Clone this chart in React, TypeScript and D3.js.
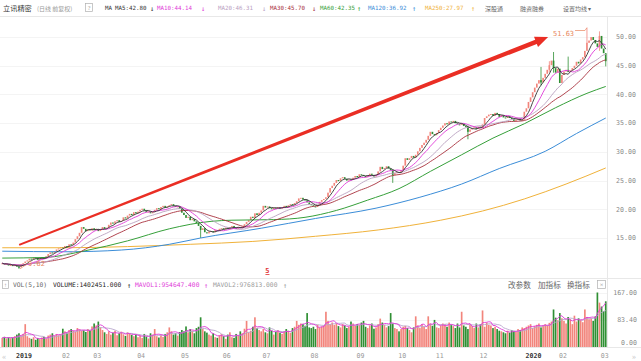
import React, { useEffect, useRef } from 'react';
import * as d3 from 'd3';

// 立讯精密 日线（前复权），收盘价按月
const closeDec2018 = [10.6, 10.4, 10.5, 10.2, 10.3, 10.1, 10.3];
const closeJan2019 = [10.0, 9.9, 10.4, 10.6, 10.9, 11.1, 11.4, 11.3, 11.6, 11.5, 11.2, 11.4, 11.6, 11.5, 11.8, 12.2, 12.5, 12.3, 12.7, 13.0, 13.2, 13.4];
const closeFeb2019 = [13.3, 13.6, 13.5, 13.9, 13.8, 14.2, 14.8, 15.3, 15.9, 16.9, 16.6, 16.2, 16.5, 16.3, 16.7];
const closeMar2019 = [16.4, 16.6, 16.2, 16.5, 16.9, 16.6, 16.8, 17.3, 17.7, 17.5, 17.9, 18.1, 17.8, 18.0, 18.6, 18.4, 18.9, 19.2, 19.0, 19.5, 19.3];
const closeApr2019 = [19.6, 19.9, 20.1, 19.8, 19.5, 19.6, 19.3, 19.5, 19.9, 20.2, 20.0, 20.4, 20.6, 20.3, 20.5, 20.7, 20.9, 20.6, 20.4, 20.5, 20.1];
const closeMay2019 = [19.4, 19.0, 18.5, 18.7, 18.1, 18.3, 17.9, 17.6, 17.1, 16.4, 16.7, 16.0, 15.8, 16.1, 16.2, 16.0, 16.4, 16.3, 16.6, 16.7];
const closeJun2019 = [16.5, 16.8, 16.6, 16.9, 17.1, 16.8, 16.6, 16.9, 16.7, 17.0, 17.4, 17.8, 18.1, 18.7, 18.5, 19.3, 19.0, 19.4, 19.8];
const closeJul2019 = [20.6, 20.3, 20.5, 20.2, 20.0, 20.3, 20.2, 20.4, 20.1, 20.3, 20.6, 20.4, 20.7, 20.9, 20.8, 21.1, 21.4, 21.9, 22.0, 21.7, 21.6, 21.2, 20.9];
const closeAug2019 = [20.7, 20.5, 20.4, 20.8, 21.3, 21.6, 21.8, 22.1, 22.9, 23.7, 24.1, 24.6, 25.1, 24.9, 25.4, 25.6, 25.3, 25.0, 25.2, 25.1, 25.5, 25.8];
const closeSep2019 = [25.6, 26.1, 26.0, 25.8, 25.6, 25.9, 26.2, 26.0, 25.7, 26.0, 26.6, 27.4, 27.0, 27.2, 27.5, 27.1, 26.8, 26.0, 26.3, 26.5];
const closeOct2019 = [26.4, 26.8, 27.6, 28.9, 28.6, 28.9, 29.3, 29.0, 29.5, 30.1, 30.7, 31.2, 31.6, 32.1, 32.8, 33.5, 33.1, 32.9];
const closeNov2019 = [33.3, 33.8, 34.2, 34.6, 35.0, 34.8, 35.3, 35.2, 35.4, 35.0, 34.8, 34.7, 34.9, 34.5, 34.3, 33.5, 33.9, 34.1, 34.3, 34.0, 34.4];
const closeDec2019 = [34.2, 34.8, 35.9, 36.2, 36.5, 36.6, 36.3, 36.8, 36.6, 36.1, 36.4, 36.0, 35.9, 36.2, 35.9, 35.7, 35.4, 35.6, 35.8, 35.5, 35.6, 37.0];
const closeJan2020 = [37.6, 38.7, 39.5, 40.4, 41.2, 41.9, 42.5, 42.1, 42.9, 43.6, 44.3, 45.1, 45.9, 44.6, 43.8, 44.5];
const closeFeb2020 = [42.0, 43.4, 44.0, 44.3, 43.9, 44.2, 44.6, 45.0, 45.7, 45.4, 46.1, 46.5, 47.6, 49.0, 49.4, 50.0, 49.5, 48.9, 48.3, 50.2];
const closeMar2020 = [48.0, 47.2, 45.8];

// 成交量（万手）
const volDec2018 = [28, 31, 26, 30, 27, 29, 33];
const volJan2019 = [38, 42, 35, 40, 70, 33, 28, 25, 30, 22, 27, 24, 29, 31, 26, 35, 38, 42, 34, 40, 36, 39];
const volFeb2019 = [56, 48, 44, 52, 55, 50, 47, 58, 54, 49, 52, 46, 55, 50, 63];
const volMar2019 = [72, 66, 78, 60, 52, 45, 40, 48, 38, 44, 50, 36, 42, 47, 39, 34, 45, 41, 37, 33, 38];
const volApr2019 = [30, 35, 28, 40, 32, 26, 42, 38, 55, 33, 29, 36, 31, 40, 45, 60, 48, 38, 42, 35, 46];
const volMay2019 = [52, 48, 63, 45, 55, 50, 42, 58, 62, 91, 55, 48, 44, 38, 35, 42, 30, 28, 36, 40];
const volJun2019 = [33, 25, 38, 45, 30, 28, 40, 35, 48, 42, 56, 80, 45, 50, 62, 91, 58, 52, 48];
const volJul2019 = [55, 45, 42, 60, 50, 38, 46, 52, 44, 40, 48, 55, 50, 43, 58, 62, 80, 68, 72, 70, 65, 104, 60];
const volAug2019 = [58, 62, 55, 68, 60, 63, 66, 108, 80, 70, 75, 68, 72, 64, 60, 70, 66, 58, 62, 78, 72, 65];
const volSep2019 = [70, 68, 75, 80, 62, 58, 66, 72, 56, 60, 70, 87, 75, 68, 60, 64, 104, 72, 58, 55];
const volOct2019 = [48, 55, 62, 65, 58, 52, 45, 60, 94, 66, 58, 70, 62, 55, 94, 72, 65, 83];
const volNov2019 = [60, 58, 66, 72, 70, 62, 75, 68, 64, 58, 72, 60, 108, 66, 62, 55, 70, 64, 58, 72, 60];
const volDec2019 = [70, 112, 62, 75, 68, 66, 58, 62, 55, 50, 48, 45, 42, 50, 44, 52, 48, 46, 55, 52, 60, 58];
const volJan2020 = [62, 66, 70, 58, 64, 68, 72, 60, 65, 70, 66, 74, 78, 115, 90, 82];
const volFeb2020 = [104, 88, 80, 72, 92, 85, 70, 96, 78, 88, 82, 76, 115, 92, 85, 88, 80, 94, 167, 136];
const volMar2020 = [124, 110, 140];

// 明显的上下影线 [序号, 最高, 最低]
const shadowIdx = [8, 95, 187, 223, 258, 262, 264, 271, 280, 286, 289];
const shadowHigh = [10.4, 17.1, 26.9, 34.6, 44.8, 45.8, 47.4, 46.6, 51.63, 51.0, 46.4];
const shadowLow = [9.62, 15.0, 24.6, 32.2, 41.6, 43.9, 43.8, 44.0, 48.9, 47.6, 44.9];

// 长周期均线（从图上读取的点）
const ma60Idx = [0, 20, 40, 60, 80, 100, 110, 130, 145, 160, 175, 190, 205, 220, 235, 250, 265, 280, 289];
const ma60Val = [11.5, 11.6, 12.8, 14.5, 16.6, 17.9, 18.1, 18.2, 18.6, 19.8, 21.6, 23.6, 26.6, 29.5, 32.4, 34.9, 37.7, 40.2, 41.4];
const ma120Idx = [0, 30, 57, 80, 95, 124, 150, 179, 200, 220, 238, 260, 275, 289];
const ma120Val = [12.7, 12.6, 12.9, 13.9, 15.0, 16.7, 18.4, 20.2, 22.1, 24.4, 27.1, 30.1, 33.2, 35.9];
const ma250Idx = [0, 30, 60, 90, 120, 150, 180, 210, 230, 250, 270, 289];
const ma250Val = [13.3, 13.3, 13.5, 13.9, 14.4, 15.3, 16.4, 18.1, 19.7, 21.8, 24.4, 27.2];

// 月份刻度
const preDays = 7;
const monthLabels = ['2019', '02', '03', '04', '05', '06', '07', '08', '09', '10', '11', '12', '2020', '02', '03'];
const monthDays = [22, 15, 21, 21, 20, 19, 23, 22, 20, 18, 21, 22, 16, 20, 3];

const priceTicks = [15, 20, 25, 30, 35, 40, 45, 50];
const volTicks = [0, 83.4, 167];

// 顶部均线说明
const maHeader = [
  { name: 'MA5', value: '42.80', dir: '↓', color: '#333333', x: 115, ax: 150 },
  { name: 'MA10', value: '44.14', dir: '↓', color: '#e03ad8', x: 157, ax: 201 },
  { name: 'MA20', value: '46.31', dir: '↓', color: '#b9a0bf', x: 218, ax: 262 },
  { name: 'MA30', value: '45.70', dir: '↓', color: '#a8303c', x: 270, ax: 312 },
  { name: 'MA60', value: '42.35', dir: '↑', color: '#36a03a', x: 320, ax: 357 },
  { name: 'MA120', value: '36.92', dir: '↑', color: '#3b8dd8', x: 368, ax: 412 },
  { name: 'MA250', value: '27.97', dir: '↑', color: '#f0b23a', x: 425, ax: 471 },
];

const UP = '#f2857c';
const DOWN = '#2f8f33';
const MONO = '"DejaVu Sans Mono", monospace';
const CJK = '"Noto Sans CJK SC", sans-serif';

const movingAvg = (arr: number[], n: number) =>
  arr.map((_, i) => {
    const s = arr.slice(Math.max(0, i - n + 1), i + 1);
    return d3.mean(s) as number;
  });

export default function App() {
  const svgRef = useRef<SVGSVGElement>(null);

  useEffect(() => {
    if (!svgRef.current) return;
    const svg = d3.select(svgRef.current);
    svg.selectAll('*').remove();

    const closes = [
      ...closeDec2018, ...closeJan2019, ...closeFeb2019, ...closeMar2019, ...closeApr2019,
      ...closeMay2019, ...closeJun2019, ...closeJul2019, ...closeAug2019, ...closeSep2019,
      ...closeOct2019, ...closeNov2019, ...closeDec2019, ...closeJan2020, ...closeFeb2020, ...closeMar2020,
    ];
    const volumes = [
      ...volDec2018, ...volJan2019, ...volFeb2019, ...volMar2019, ...volApr2019,
      ...volMay2019, ...volJun2019, ...volJul2019, ...volAug2019, ...volSep2019,
      ...volOct2019, ...volNov2019, ...volDec2019, ...volJan2020, ...volFeb2020, ...volMar2020,
    ];
    const n = closes.length;
    const opens = closes.map((c, i) => (i === 0 ? c : closes[i - 1]));

    // Scales
    const x = d3.scaleBand<number>().domain(d3.range(n)).range([1, 607]).padding(0.2);
    const bw = x.bandwidth();
    const cx = (i: number) => (x(0) as number) + x.step() * i + bw / 2;
    const y = d3.scaleLinear().domain([8.03, 53.5]).range([278, 17]);
    const yv = d3.scaleLinear().domain([0, 167]).range([347, 292.5]);

    // Frame + grid
    const frame = svg.append('g').attr('stroke', '#e8e8e8').attr('stroke-width', 1);
    frame.append('line').attr('x1', 0).attr('x2', 641).attr('y1', 16.5).attr('y2', 16.5);
    frame.append('line').attr('x1', 0).attr('x2', 641).attr('y1', 278.5).attr('y2', 278.5);
    frame.append('line').attr('x1', 0).attr('x2', 641).attr('y1', 347.5).attr('y2', 347.5);
    frame.append('line').attr('x1', 607.5).attr('x2', 607.5).attr('y1', 16.5).attr('y2', 347.5);

    svg.append('g')
      .selectAll('line')
      .data(priceTicks)
      .enter()
      .append('line')
      .attr('x1', 0)
      .attr('x2', 607)
      .attr('y1', (d) => Math.round(y(d)) + 0.5)
      .attr('y2', (d) => Math.round(y(d)) + 0.5)
      .attr('stroke', '#f4f4f4');

    svg.append('g')
      .selectAll('line')
      .data(volTicks.slice(1))
      .enter()
      .append('line')
      .attr('x1', 0)
      .attr('x2', 607)
      .attr('y1', (d) => Math.round(yv(d)) + 0.5)
      .attr('y2', (d) => Math.round(yv(d)) + 0.5)
      .attr('stroke', '#f4f4f4');

    // Price axis labels
    svg.append('g')
      .selectAll('text')
      .data(priceTicks)
      .enter()
      .append('text')
      .attr('x', 616)
      .attr('y', (d) => y(d) + 2.3)
      .attr('fill', '#8a8a8a')
      .attr('font-family', MONO)
      .attr('font-size', '6.6px')
      .text((d) => d.toFixed(2));

    // Volume axis labels
    svg.append('g')
      .selectAll('text')
      .data(volTicks)
      .enter()
      .append('text')
      .attr('x', 637)
      .attr('y', (d) => (d === 0 ? yv(d) - 2 : yv(d) + 2.3))
      .attr('text-anchor', 'end')
      .attr('fill', '#8a8a8a')
      .attr('font-family', MONO)
      .attr('font-size', '6.6px')
      .text((d) => d.toFixed(2));

    // Month ticks
    let acc = preDays;
    const ticks = monthLabels.map((label, k) => {
      const idx = acc;
      acc += monthDays[k];
      return { label, idx };
    });
    svg.append('g')
      .selectAll('text')
      .data(ticks)
      .enter()
      .append('text')
      .attr('x', (d) => x(d.idx) as number)
      .attr('y', 358)
      .attr('fill', (d) => (d.label.length === 4 ? '#333' : '#999'))
      .attr('font-weight', (d) => (d.label.length === 4 ? 'bold' : 'normal'))
      .attr('font-family', MONO)
      .attr('font-size', '6.6px')
      .text((d) => d.label);

    svg.append('text').attr('x', 2).attr('y', 358.5).attr('fill', '#c8c8c8').attr('font-size', '8px').text('«');
    svg.append('text').attr('x', 632).attr('y', 358.5).attr('fill', '#c8c8c8').attr('font-size', '8px').text('»');

    // Candles
    const candles = svg.append('g');
    shadowIdx.forEach((i, k) => {
      candles
        .append('line')
        .attr('x1', cx(i))
        .attr('x2', cx(i))
        .attr('y1', y(shadowHigh[k]))
        .attr('y2', y(shadowLow[k]))
        .attr('stroke', closes[i] >= opens[i] ? UP : DOWN)
        .attr('stroke-width', 0.8);
    });
    candles
      .selectAll('rect')
      .data(d3.range(n))
      .enter()
      .append('rect')
      .attr('x', (i) => x(i) as number)
      .attr('width', bw)
      .attr('y', (i) => y(Math.max(opens[i], closes[i])))
      .attr('height', (i) => Math.max(1, Math.abs(y(opens[i]) - y(closes[i]))))
      .attr('fill', (i) => (closes[i] >= opens[i] ? UP : DOWN));

    // Moving averages
    const line = d3
      .line<number>()
      .x((_, i) => cx(i))
      .y((d) => y(d));
    const sparse = (idx: number[], vals: number[]) =>
      d3
        .line<number>()
        .x((_, k) => cx(idx[k]))
        .y((d) => y(d))
        .curve(d3.curveMonotoneX)(vals);

    svg.append('path').attr('d', sparse(ma250Idx, ma250Val)).attr('fill', 'none').attr('stroke', maHeader[6].color).attr('stroke-width', 1);
    svg.append('path').attr('d', sparse(ma120Idx, ma120Val)).attr('fill', 'none').attr('stroke', maHeader[5].color).attr('stroke-width', 1);
    svg.append('path').attr('d', sparse(ma60Idx, ma60Val)).attr('fill', 'none').attr('stroke', maHeader[4].color).attr('stroke-width', 1);
    [
      { p: 30, c: maHeader[3].color },
      { p: 20, c: maHeader[2].color },
      { p: 10, c: maHeader[1].color },
      { p: 5, c: maHeader[0].color },
    ].forEach(({ p, c }) => {
      svg.append('path').attr('d', line(movingAvg(closes, p))).attr('fill', 'none').attr('stroke', c).attr('stroke-width', 0.9);
    });

    // Red trend arrow
    const a0 = [cx(8.1), y(13.8)];
    const a1 = [cx(261.4), y(50.0)];
    const dx = a1[0] - a0[0];
    const dy = a1[1] - a0[1];
    const len = Math.hypot(dx, dy);
    const ux = dx / len;
    const uy = dy / len;
    const nx = -uy;
    const ny = ux;
    const headLen = 13;
    const b = [a1[0] - ux * headLen, a1[1] - uy * headLen];
    const pts = [
      [a0[0] + nx * 1.0, a0[1] + ny * 1.0],
      [b[0] + nx * 2.2, b[1] + ny * 2.2],
      [b[0] + nx * 5.5, b[1] + ny * 5.5],
      a1,
      [b[0] - nx * 5.5, b[1] - ny * 5.5],
      [b[0] - nx * 2.2, b[1] - ny * 2.2],
      [a0[0] - nx * 1.0, a0[1] - ny * 1.0],
    ];
    svg.append('polygon').attr('points', pts.map((p) => p.join(',')).join(' ')).attr('fill', '#ea2e24');

    // High / low labels
    svg.append('text').attr('x', 553).attr('y', 36).attr('fill', '#e8875e').attr('font-family', MONO).attr('font-size', '7px').text('51.63');
    svg.append('path')
      .attr('d', `M${575},${30.5} L${cx(280) - 2},${30.5} L${cx(280)},${y(51.63)}`)
      .attr('fill', 'none')
      .attr('stroke', '#e8875e')
      .attr('stroke-width', 0.7);
    svg.append('text').attr('x', 28).attr('y', 266).attr('fill', '#e8875e').attr('font-family', MONO).attr('font-size', '7px').text('9.62');
    svg.append('line').attr('x1', cx(8) + 1).attr('x2', 27).attr('y1', y(9.62)).attr('y2', 264).attr('stroke', '#e8875e').attr('stroke-width', 0.7);

    // Event marker
    svg.append('text').attr('x', cx(127)).attr('y', 273).attr('text-anchor', 'middle').attr('fill', '#e03030').attr('font-size', '7px').attr('font-weight', 'bold').attr('font-family', MONO).text('5');
    svg.append('line').attr('x1', cx(127) - 2).attr('x2', cx(127) + 2).attr('y1', 274.5).attr('y2', 274.5).attr('stroke', '#e03030').attr('stroke-width', 0.8);

    // Volume bars
    svg.append('g')
      .selectAll('rect')
      .data(d3.range(n))
      .enter()
      .append('rect')
      .attr('x', (i) => x(i) as number)
      .attr('width', bw)
      .attr('y', (i) => yv(volumes[i]))
      .attr('height', (i) => yv(0) - yv(volumes[i]))
      .attr('fill', (i) => (closes[i] >= opens[i] ? UP : DOWN));

    const vline = d3
      .line<number>()
      .x((_, i) => cx(i))
      .y((d) => yv(d));
    svg.append('path').attr('d', vline(movingAvg(volumes, 10))).attr('fill', 'none').attr('stroke', '#b8a6cc').attr('stroke-width', 0.9);
    svg.append('path').attr('d', vline(movingAvg(volumes, 5))).attr('fill', 'none').attr('stroke', '#e03ad8').attr('stroke-width', 0.9);

    // Header
    const head = svg.append('g');
    head.append('text').attr('x', 3).attr('y', 10.5).attr('fill', '#333').attr('font-family', CJK).attr('font-size', '7.2px').text('立讯精密');
    head.append('text').attr('x', 37).attr('y', 10.5).attr('fill', '#999').attr('font-family', CJK).attr('font-size', '6px').text('(日线 前复权)');
    head.append('rect').attr('x', 85.5).attr('y', 3.5).attr('width', 7).attr('height', 8).attr('fill', 'none').attr('stroke', '#b0b0b0').attr('stroke-width', 0.7);
    head.append('text').attr('x', 89).attr('y', 10).attr('text-anchor', 'middle').attr('fill', '#999').attr('font-size', '6px').text('?');
    head.append('text').attr('x', 105).attr('y', 10.3).attr('fill', '#333').attr('font-family', MONO).attr('font-size', '5.8px').text('MA');
    maHeader.forEach((m) => {
      head.append('text').attr('x', m.x).attr('y', 10.3).attr('fill', m.color).attr('font-family', MONO).attr('font-size', '5.8px').text(`${m.name}:${m.value}`);
      head.append('text').attr('x', m.ax).attr('y', 10.8).attr('fill', m.color).attr('font-family', MONO).attr('font-size', '7px').text(m.dir);
    });
    [
      { t: '深股通', x: 485 },
      { t: '融资融券', x: 520 },
      { t: '设置均线 ▾', x: 563 },
    ].forEach((d) => {
      head.append('text').attr('x', d.x).attr('y', 10.5).attr('fill', '#666').attr('font-family', CJK).attr('font-size', '6px').text(d.t);
    });

    // Volume header
    const vh = svg.append('g');
    vh.append('rect').attr('x', 2.5).attr('y', 280.5).attr('width', 6).attr('height', 8).attr('fill', 'none').attr('stroke', '#b0b0b0').attr('stroke-width', 0.7);
    vh.append('text').attr('x', 5.5).attr('y', 287).attr('text-anchor', 'middle').attr('fill', '#999').attr('font-size', '6px').text('↑');
    vh.append('text').attr('x', 13).attr('y', 287).attr('fill', '#666').attr('font-family', MONO).attr('font-size', '6.3px').text('VOL(5,10)');
    vh.append('text').attr('x', 53).attr('y', 287).attr('fill', '#222').attr('font-family', MONO).attr('font-size', '6.3px').text('VOLUME:1402451.000');
    vh.append('text').attr('x', 127).attr('y', 287.5).attr('fill', '#222').attr('font-family', MONO).attr('font-size', '7px').text('↑');
    vh.append('text').attr('x', 135).attr('y', 287).attr('fill', '#e03ad8').attr('font-family', MONO).attr('font-size', '6.3px').text('MAVOL1:954647.400');
    vh.append('text').attr('x', 204).attr('y', 287.5).attr('fill', '#e03ad8').attr('font-family', MONO).attr('font-size', '7px').text('↑');
    vh.append('text').attr('x', 213).attr('y', 287).attr('fill', '#999').attr('font-family', MONO).attr('font-size', '6.3px').text('MAVOL2:976813.000');
    vh.append('text').attr('x', 283).attr('y', 287.5).attr('fill', '#999').attr('font-family', MONO).attr('font-size', '7px').text('↑');
    [
      { t: '改参数', x: 508 },
      { t: '加指标', x: 538 },
      { t: '换指标', x: 567 },
    ].forEach((d) => {
      vh.append('text').attr('x', d.x).attr('y', 287.5).attr('fill', '#666').attr('font-family', CJK).attr('font-size', '7.6px').text(d.t);
    });
    vh.append('rect').attr('x', 597.5).attr('y', 280.5).attr('width', 8).attr('height', 8).attr('fill', 'none').attr('stroke', '#b0b0b0').attr('stroke-width', 0.7);
    vh.append('text').attr('x', 601.5).attr('y', 287).attr('text-anchor', 'middle').attr('fill', '#888').attr('font-size', '6.5px').text('×');
  }, []);

  return (
    <svg
      ref={svgRef}
      width={641}
      height={361}
      style={{ position: 'absolute', left: 0, top: 0, background: '#fff' }}
    />
  );
}
